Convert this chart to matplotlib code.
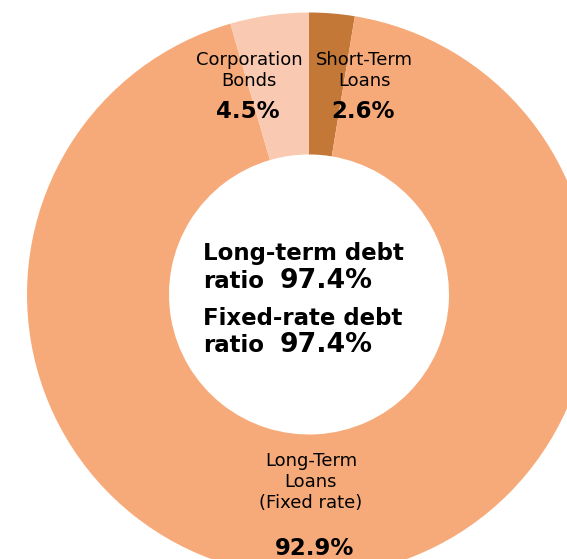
import matplotlib
matplotlib.use("Agg")
import matplotlib.pyplot as plt

# datos del grafico
labels = ["Short-Term\nLoans", "Long-Term\nLoans\n(Fixed rate)", "Corporation\nBonds"]
values = [2.6, 92.9, 4.5]
colors = ["#C47838", "#F7AA79", "#F9CAB1"]
pct_text = ["2.6%", "92.9%", "4.5%"]

W, H = 567, 559
fig = plt.figure(figsize=(W / 100, H / 100), dpi=100)
ax = fig.add_axes([0, 0, 1, 1])

# dona
ax.pie(values, colors=colors, startangle=90, counterclock=False,
       center=(309, H - 294.5), radius=282,
       wedgeprops=dict(width=142, linewidth=0))
ax.set_xlim(0, W)
ax.set_ylim(0, H)
ax.set_aspect("equal")
ax.axis("off")

# etiquetas (x centro, y linea base de la ultima linea, desde arriba)
lab_pos = [(364, 86), (311, 508), (249, 86)]
pct_pos = [(363, 118), (315, 555), (248, 118)]
for lab, (x, y) in zip(labels, lab_pos):
    ax.text(x, H - y, lab, ha="center", va="baseline", fontsize=13,
            linespacing=1.22)
for t, (x, y) in zip(pct_text, pct_pos):
    ax.text(x, H - y, t, ha="center", va="baseline", fontsize=16.5,
            fontweight="bold")

# texto central
ax.text(203, H - 260, "Long-term debt", ha="left", va="baseline",
        fontsize=16.5, fontweight="bold")
ax.text(203, H - 288, "ratio", ha="left", va="baseline",
        fontsize=16.5, fontweight="bold")
ax.text(280, H - 288, "97.4%", ha="left", va="baseline",
        fontsize=19.3, fontweight="bold")
ax.text(203, H - 325, "Fixed-rate debt", ha="left", va="baseline",
        fontsize=16.5, fontweight="bold")
ax.text(203, H - 352, "ratio", ha="left", va="baseline",
        fontsize=16.5, fontweight="bold")
ax.text(280, H - 352, "97.4%", ha="left", va="baseline",
        fontsize=19.3, fontweight="bold")

fig.savefig("out.png", dpi=100)
